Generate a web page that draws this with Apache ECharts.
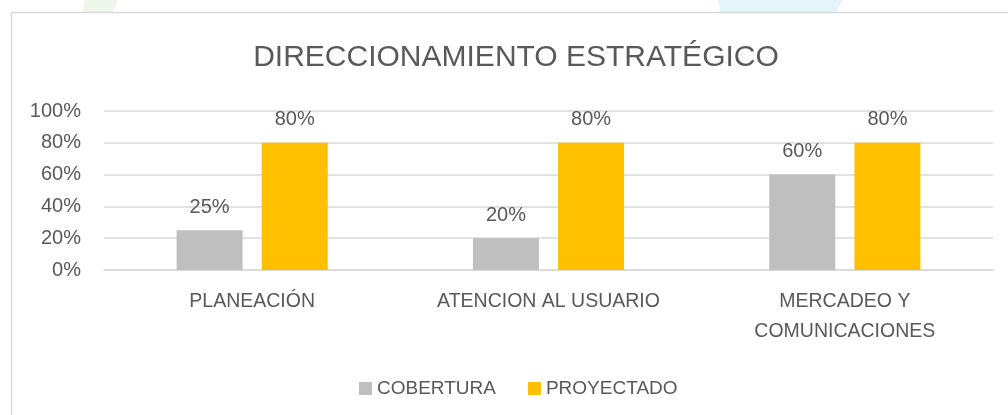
<!DOCTYPE html>
<html>
<head>
<meta charset="utf-8">
<script src="https://cdn.jsdelivr.net/npm/echarts@6/dist/echarts.min.js"></script>
<style>html,body{margin:0;padding:0;background:#fff}#c{width:1008px;height:415px}</style>
</head>
<body>
<div id="c"></div>
<script>
var categories = ['PLANEACIÓN', 'ATENCION AL USUARIO', 'MERCADEO Y\nCOMUNICACIONES'];
var cobertura = [25, 20, 60];
var proyectado = [80, 80, 80];
var yTicks = [0, 20, 40, 60, 80, 100];
var seriesNames = ['COBERTURA', 'PROYECTADO'];
var titleText = 'DIRECCIONAMIENTO ESTRATÉGICO';

var FONT = '"Liberation Sans", Arial, sans-serif';
var TXT = '#595959';
var chart = echarts.init(document.getElementById('c'), null, {renderer: 'canvas'});
chart.setOption({
  backgroundColor: '#ffffff',
  animation: false,
  graphic: [
    {type: 'polygon', z: -10, shape: {points: [[85,0],[118,0],[113,12],[82,12]]}, style: {fill: '#eef5ea'}},
    {type: 'polygon', z: -10, shape: {points: [[718,0],[843,0],[836,12],[720,12]]}, style: {fill: '#e4f4f8'}},
    {type: 'rect', z: -5, shape: {x: 11.5, y: 12.5, width: 1010, height: 420}, style: {fill: 'none', stroke: '#d9d9d9', lineWidth: 1.5}}
  ],
  title: {
    text: titleText,
    left: 511,
    top: 38,
    textAlign: 'center',
    textStyle: {fontFamily: FONT, fontSize: 30, fontWeight: 'normal', color: TXT}
  },
  legend: {
    data: seriesNames,
    left: 354,
    top: 374,
    itemWidth: 13,
    itemHeight: 13,
    itemGap: 32,
    icon: 'rect',
    textStyle: {fontFamily: FONT, fontSize: 19, color: TXT}
  },
  grid: {left: 104, right: 15, top: 111, bottom: 145},
  xAxis: {
    type: 'category',
    data: categories,
    axisLine: {lineStyle: {color: '#d9d9d9', width: 1.5}},
    axisTick: {show: false},
    axisLabel: {fontFamily: FONT, fontSize: 19.5, color: TXT, margin: 17, lineHeight: 30}
  },
  yAxis: {
    type: 'value',
    min: 0, max: 100, interval: 20,
    axisLine: {show: false},
    axisTick: {show: false},
    splitLine: {lineStyle: {color: '#d9d9d9', width: 1.5}},
    axisLabel: {fontFamily: FONT, fontSize: 20, color: TXT, margin: 23, formatter: function(v){return v + '%';}}
  },
  series: [
    {
      name: seriesNames[0], type: 'bar', data: cobertura, barWidth: 66, barGap: '29%',
      itemStyle: {color: '#bfbfbf'},
      label: {show: true, position: 'top', distance: 13, fontFamily: FONT, fontSize: 20, color: TXT, formatter: '{c}%'}
    },
    {
      name: seriesNames[1], type: 'bar', data: proyectado, barWidth: 66,
      itemStyle: {color: '#ffc000'},
      label: {show: true, position: 'top', distance: 13, fontFamily: FONT, fontSize: 20, color: TXT, formatter: '{c}%'}
    }
  ]
});
</script>
</body>
</html>
